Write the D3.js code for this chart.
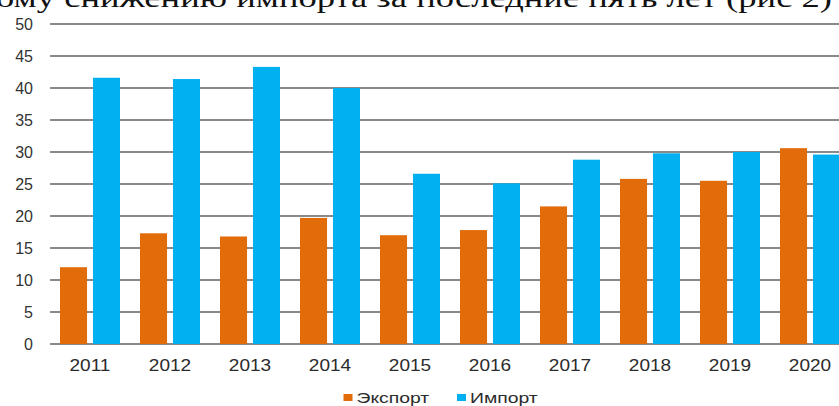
<!DOCTYPE html>
<html>
<head>
<meta charset="utf-8">
<script src="https://cdn.jsdelivr.net/npm/d3@7/dist/d3.min.js"></script>
<style>
  body { margin: 0; background: #fff; }
  svg { display: block; }
</style>
</head>
<body>
<svg id="chart" width="839" height="406"></svg>
<script>
const years = ['2011', '2012', '2013', '2014', '2015', '2016', '2017', '2018', '2019', '2020']
const exportValues = [12.0, 17.3, 16.8, 19.7, 17.0, 17.8, 21.5, 25.8, 25.5, 30.6]
const importValues = [41.6, 41.4, 43.3, 40.0, 26.6, 25.1, 28.8, 29.8, 30.0, 29.6]
const yTicks = [0, 5, 10, 15, 20, 25, 30, 35, 40, 45, 50]
const seriesNames = ['Экспорт', 'Импорт']
const seriesColors = ['#e36c0a', '#00b0f0']
const captionText = 'ому снижению импорта за последние пять лет (рис 2)'

const svg = d3.select('#chart')

// caption line, cut off at the top like in the scan
svg.append('text')
  .attr('x', -4)
  .attr('y', 7)
  .attr('textLength', 836)
  .attr('lengthAdjust', 'spacingAndGlyphs')
  .style('font-family', '"Liberation Serif", "Times New Roman", serif')
  .style('font-size', '27px')
  .style('fill', '#111')
  .text(captionText)

const x = d3.scaleBand().domain(years).range([50, 850]).paddingInner(0.25).paddingOuter(0.125)
const xSeries = d3.scaleBand().domain([0, 1]).range([0, x.bandwidth()]).paddingInner(0.18)
const y = d3.scaleLinear().domain([0, 50]).range([344, 24])

// grid
svg.append('g')
  .selectAll('line')
  .data(yTicks)
  .join('line')
    .attr('x1', 50)
    .attr('x2', 839)
    .attr('y1', d => y(d))
    .attr('y2', d => y(d))
    .attr('stroke', '#8a8a8a')
    .attr('stroke-width', 2)

// y labels
svg.append('g')
  .selectAll('text')
  .data(yTicks)
  .join('text')
    .attr('x', 33)
    .attr('y', d => y(d))
    .attr('dy', '0.36em')
    .attr('text-anchor', 'end')
    .style('font-family', '"Liberation Sans", Arial, sans-serif')
    .style('font-size', '16px')
    .style('fill', '#333')
    .text(d => d)

// bars
const rows = years.map((yr, i) => ({ year: yr, values: [exportValues[i], importValues[i]] }))
const groups = svg.append('g')
  .selectAll('g')
  .data(rows)
  .join('g')
    .attr('transform', d => `translate(${x(d.year)},0)`)

groups.selectAll('rect')
  .data(d => d.values.map((v, k) => ({ k, v })))
  .join('rect')
    .attr('x', d => xSeries(d.k))
    .attr('width', xSeries.bandwidth())
    .attr('y', d => y(d.v))
    .attr('height', d => y(0) - y(d.v))
    .attr('fill', d => seriesColors[d.k])

// x labels
svg.append('g')
  .selectAll('text')
  .data(years)
  .join('text')
    .attr('transform', d => `translate(${x(d) + x.bandwidth() / 2},371) scale(1.12,1)`)
    .attr('text-anchor', 'middle')
    .style('font-family', '"Liberation Sans", Arial, sans-serif')
    .style('font-size', '17px')
    .style('fill', '#2b2b2b')
    .text(d => d)

// legend
const legendX = [343.5, 457]
const legend = svg.append('g')
  .selectAll('g')
  .data(seriesNames)
  .join('g')
    .attr('transform', (d, i) => `translate(${legendX[i]},0)`)

legend.append('rect')
  .attr('x', 0)
  .attr('y', 394)
  .attr('width', 9)
  .attr('height', 7)
  .attr('fill', (d, i) => seriesColors[i])

legend.append('text')
  .attr('transform', 'translate(13,402.5) scale(1.25,1)')
  .style('font-family', '"Liberation Sans", Arial, sans-serif')
  .style('font-size', '15.5px')
  .style('fill', '#2b2b2b')
  .text(d => d)
</script>
</body>
</html>
